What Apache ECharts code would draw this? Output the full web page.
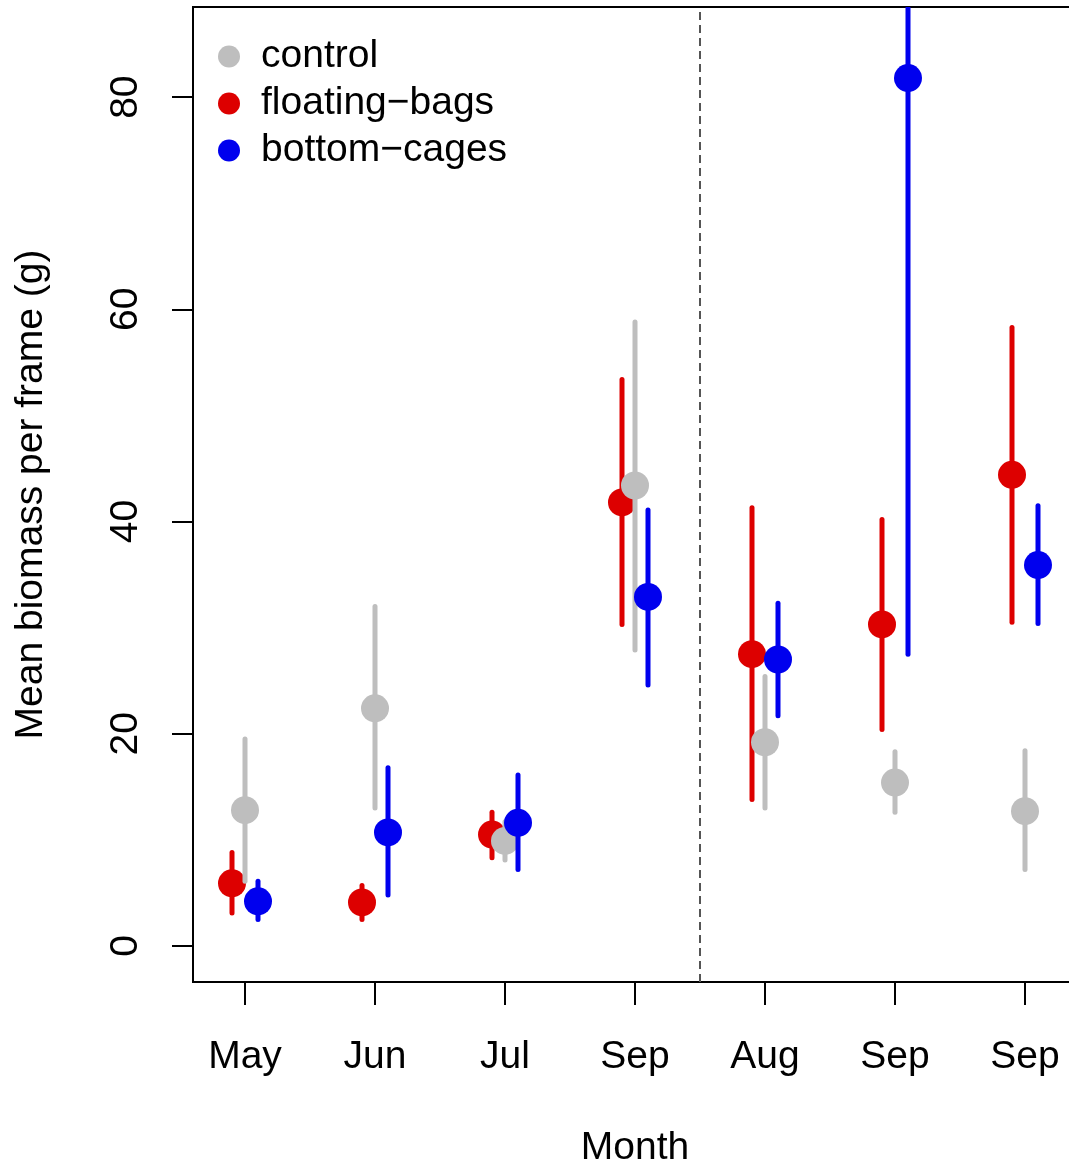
<!DOCTYPE html>
<html>
<head>
<meta charset="utf-8">
<script src="https://cdn.jsdelivr.net/npm/echarts@6/dist/echarts.min.js"></script>
<style>
  html, body { margin: 0; padding: 0; background: #ffffff; }
  #chart { width: 1069px; height: 1165px; }
</style>
</head>
<body>
<div id="chart"></div>
<script>
// month labels along the x axis (positions 1..7)
var months = ['May', 'Jun', 'Jul', 'Sep', 'Aug', 'Sep', 'Sep'];
var yTicks = [0, 20, 40, 60, 80];

// control
var controlMean = [12.8, 22.4, 9.9, 43.4, 19.2, 15.4, 12.7];
var controlLow  = [6.1, 13.0, 8.1, 27.9, 13.0, 12.6, 7.2];
var controlHigh = [19.5, 32.0, 11.7, 58.8, 25.4, 18.3, 18.4];

// floating-bags
var bagsMean = [5.9, 4.1, 10.5, 41.8, 27.5, 30.3, 44.4];
var bagsLow  = [3.1, 2.5, 8.3, 30.3, 13.8, 20.4, 30.5];
var bagsHigh = [8.8, 5.7, 12.6, 53.4, 41.3, 40.2, 58.3];

// bottom-cages
var cagesMean = [4.2, 10.7, 11.6, 32.9, 27.0, 81.8, 35.9];
var cagesLow  = [2.5, 4.8, 7.2, 24.6, 21.7, 27.5, 30.4];
var cagesHigh = [6.1, 16.8, 16.1, 41.1, 32.3, 136.0, 41.5];

var FONT = 'Liberation Sans, Arial, Helvetica, sans-serif';
var FS = 39;

function errSeries(name, color, offset, mean, low, high) {
  var data = mean.map(function (m, i) {
    return [i + 1 + offset, m, low[i], high[i]];
  });
  return {
    type: 'custom',
    name: name,
    clip: true,
    itemStyle: { color: color },
    data: data,
    renderItem: function (params, api) {
      var x = api.value(0);
      var cs = params.coordSys;
      var p1 = api.coord([x, api.value(3)]);
      var p2 = api.coord([x, api.value(2)]);
      var mid = api.coord([x, api.value(1)]);
      var pts = echarts.graphic.clipPointsByRect([p1, p2], {
        x: cs.x, y: cs.y, width: cs.width, height: cs.height
      });
      return {
        type: 'group',
        children: [
          {
            type: 'line',
            shape: { x1: pts[0][0], y1: pts[0][1], x2: pts[1][0], y2: pts[1][1] },
            style: { stroke: color, lineWidth: 5, lineCap: 'round' }
          },
          {
            type: 'circle',
            shape: { cx: mid[0], cy: mid[1], r: 14 },
            style: { fill: color }
          }
        ]
      };
    }
  };
}

var chart = echarts.init(document.getElementById('chart'));

var bags = errSeries('floating-bags', '#dd0000', -0.1, bagsMean, bagsLow, bagsHigh);
bags.markLine = {
  silent: true,
  symbol: 'none',
  label: { show: false },
  lineStyle: { color: '#555555', type: [8, 5], width: 2 },
  data: [{ xAxis: 4.5 }]
};

var option = {
  backgroundColor: '#ffffff',
  animation: false,
  grid: {
    left: 193,
    top: 7,
    right: -8,
    bottom: 183,
    containLabel: false,
    outerBoundsMode: 'none',
    show: true,
    borderColor: '#000000',
    borderWidth: 2,
    backgroundColor: 'transparent'
  },
  legend: {
    orient: 'vertical',
    left: 218,
    top: 37,
    padding: 0,
    icon: 'circle',
    itemWidth: 22,
    itemHeight: 22,
    itemGap: 8,
    data: ['control', 'floating-bags', 'bottom-cages'],
    textStyle: {
      fontFamily: FONT,
      fontSize: FS,
      color: '#000000',
      padding: [0, 0, 0, 16]
    },
    formatter: function (n) { return n.replace('-', '\u2212'); }
  },
  xAxis: {
    type: 'value',
    min: 0.6,
    max: 7.4,
    splitLine: { show: false },
    axisLine: { show: false, onZero: false },
    axisTick: {
      show: true,
      customValues: [1, 2, 3, 4, 5, 6, 7],
      length: 23,
      lineStyle: { color: '#000000', width: 2 }
    },
    axisLabel: {
      customValues: [1, 2, 3, 4, 5, 6, 7],
      margin: 56,
      fontFamily: FONT,
      fontSize: FS,
      color: '#000000',
      formatter: function (v) { return months[Math.round(v) - 1]; }
    },
    name: 'Month',
    nameLocation: 'middle',
    nameGap: 147,
    nameTextStyle: { fontFamily: FONT, fontSize: FS, color: '#000000' }
  },
  yAxis: {
    type: 'value',
    min: -3.4,
    max: 88.5,
    splitLine: { show: false },
    axisLine: { show: false, onZero: false },
    axisTick: {
      show: true,
      customValues: yTicks,
      length: 21,
      lineStyle: { color: '#000000', width: 2 }
    },
    axisLabel: {
      customValues: yTicks,
      rotate: 90,
      margin: 47,
      fontFamily: FONT,
      fontSize: FS,
      color: '#000000'
    },
    name: 'Mean biomass per frame (g)',
    nameLocation: 'middle',
    nameGap: 142,
    nameTextStyle: { fontFamily: FONT, fontSize: FS, color: '#000000' }
  },
  series: [
    bags,
    errSeries('control', '#bebebe', 0, controlMean, controlLow, controlHigh),
    errSeries('bottom-cages', '#0000ee', 0.1, cagesMean, cagesLow, cagesHigh)
  ]
};

chart.setOption(option);
</script>
</body>
</html>
